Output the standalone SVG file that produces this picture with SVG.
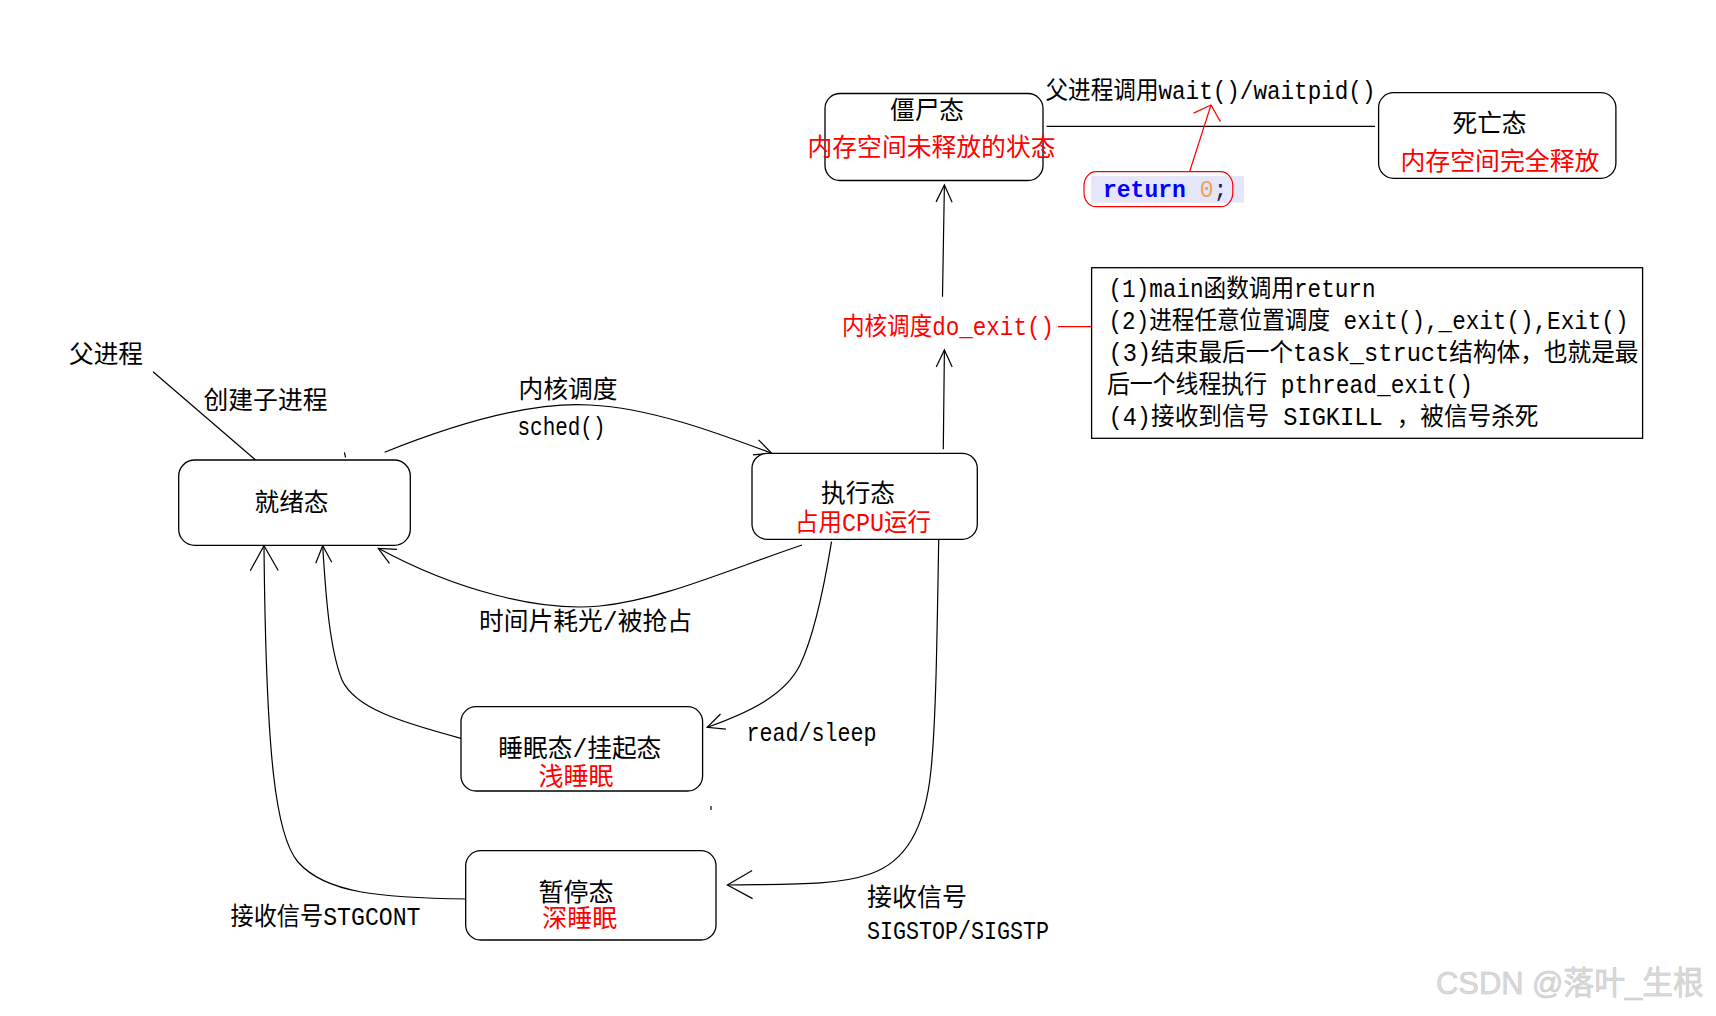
<svg xmlns="http://www.w3.org/2000/svg" width="1716" height="1016" viewBox="0 0 1716 1016">
<style>
.node{fill:#fff;stroke:#000;stroke-width:1.3}
.t{font-family:'Liberation Mono','Noto Sans CJK SC',monospace;font-size:25px;fill:#000}
.r{fill:#f00}
.c{fill:none;stroke:#000;stroke-width:1.2}
.cr{fill:none;stroke:#f00;stroke-width:1.2}
.code{font-family:'Liberation Mono','DejaVu Sans Mono',monospace;font-size:23px}
.wm{font-family:'Liberation Sans','Noto Sans CJK SC',sans-serif;font-size:32px;fill:#dadada;stroke:#c4c4c4;stroke-width:0.5}
</style>
<defs>
<marker id="arr" markerUnits="userSpaceOnUse" viewBox="-20 -10 22 20" refX="0" refY="0" markerWidth="22" markerHeight="20" orient="auto" overflow="visible">
<path d="M-17,-8 L0,0 L-17,8" fill="none" stroke="#000" stroke-width="1.2"/>
</marker>
<marker id="arrL" markerUnits="userSpaceOnUse" viewBox="-28 -16 30 32" refX="0" refY="0" markerWidth="30" markerHeight="32" orient="auto" overflow="visible">
<path d="M-25,-14 L0,0 L-25,14" fill="none" stroke="#000" stroke-width="1.2"/>
</marker>
<marker id="arrR" markerUnits="userSpaceOnUse" viewBox="-16 -16 18 32" refX="0" refY="0" markerWidth="18" markerHeight="32" orient="auto" overflow="visible">
<path d="M-13,-14 L0,0 L-13,14" fill="none" stroke="#f00" stroke-width="1.2"/>
</marker>
</defs>
<rect width="1716" height="1016" fill="#fff"/>

<g id="connectors">
<path class="c" d="M153,371.7 L255.6,460"/>
<path class="c" d="M344.4,452.3 L345.6,457.5"/>
<path class="c" d="M384.6,452.3 C470,418 540,402 590,405 C650,408 715,432 771.7,453.3" marker-end="url(#arr)"/>
<path class="c" d="M802,545 C720,573 660,600 600,606 C540,612 455,590 378.3,548.3" marker-end="url(#arr)"/>
<path class="c" d="M831.5,541.7 C822,600 812,640 800,665 C785,695 750,712 707.2,727.3" marker-end="url(#arr)"/>
<path class="c" d="M461,738.3 C400,722 355,708 342,680 C330,650 326,600 322.7,545.7" marker-end="url(#arr)"/>
<path class="c" d="M467.7,899 C380,898 325,893 298,862 C276,836 266,760 264,545.7" marker-end="url(#arrL)"/>
<path class="c" d="M938.7,540 C937,640 936,720 931,770 C925,830 905,862 870,874 C835,886 790,884 727.4,885" marker-end="url(#arrL)"/>
<path class="c" d="M943.3,449.3 L944.4,350" marker-end="url(#arr)"/>
<path class="c" d="M942.5,296.7 L944.4,185" marker-end="url(#arr)"/>
<path class="cr" d="M1058,326.7 L1091.6,326.7"/>
<path class="c" d="M1046.6,126.3 L1375,126.3"/>
<path class="cr" d="M1189.5,172 L1211,105" marker-end="url(#arrR)"/>
<path class="c" d="M711,806 L711,810"/>
</g>

<g id="node-zombie">
<rect class="node" x="825" y="93.5" width="218" height="87" rx="15"/>
<text class="t" x="890" y="118.5" textLength="74" lengthAdjust="spacingAndGlyphs">僵尸态</text>
<text class="t r" x="807.5" y="156" textLength="248" lengthAdjust="spacingAndGlyphs">内存空间未释放的状态</text>
</g>

<g id="node-dead">
<rect class="node" x="1378.6" y="92.7" width="237.3" height="85.6" rx="15"/>
<text class="t" x="1452.5" y="132" textLength="74" lengthAdjust="spacingAndGlyphs">死亡态</text>
<text class="t r" x="1400.5" y="170" textLength="199" lengthAdjust="spacingAndGlyphs">内存空间完全释放</text>
</g>

<g id="node-return">
<rect x="1091" y="176" width="153" height="26.7" fill="#e6e6fb"/>
<rect x="1084" y="171.7" width="148.8" height="35" rx="12" ry="14" fill="none" stroke="#f00" stroke-width="1.2"/>
<text class="code" x="1103" y="197"><tspan fill="#0000ff" font-weight="bold">return</tspan> <tspan fill="#f0a050">0</tspan><tspan fill="#1a1a50">;</tspan></text>
</g>

<g id="node-note">
<rect x="1091.6" y="267.7" width="551" height="170.6" fill="#fff" stroke="#000" stroke-width="1.3"/>
<text class="t" x="1108.5" y="297" textLength="267" lengthAdjust="spacingAndGlyphs">(1)main函数调用return</text>
<text class="t" x="1108.5" y="329" textLength="520" lengthAdjust="spacingAndGlyphs">(2)进程任意位置调度 exit(),_exit(),Exit()</text>
<text class="t" x="1108.5" y="360.5" textLength="530" lengthAdjust="spacingAndGlyphs">(3)结束最后一个task_struct结构体，也就是最</text>
<text class="t" x="1107" y="392.5" textLength="366" lengthAdjust="spacingAndGlyphs">后一个线程执行 pthread_exit()</text>
<text class="t" x="1108.5" y="424.5" textLength="430" lengthAdjust="spacingAndGlyphs">(4)接收到信号 SIGKILL ，被信号杀死</text>
</g>

<g id="node-ready">
<rect class="node" x="178.7" y="460" width="231.6" height="85.3" rx="16"/>
<text class="t" x="254.5" y="510.5" textLength="74" lengthAdjust="spacingAndGlyphs">就绪态</text>
</g>

<g id="node-running">
<rect class="node" x="752" y="453.3" width="225.3" height="86" rx="15"/>
<text class="t" x="821" y="502" textLength="74" lengthAdjust="spacingAndGlyphs">执行态</text>
<text class="t r" x="795" y="531" textLength="136" lengthAdjust="spacingAndGlyphs">占用CPU运行</text>
</g>

<g id="node-sleep">
<rect class="node" x="461" y="706.7" width="241.6" height="84.3" rx="15"/>
<text class="t" x="498.3" y="757" textLength="163" lengthAdjust="spacingAndGlyphs">睡眠态/挂起态</text>
<text class="t r" x="538.5" y="784.5" textLength="75" lengthAdjust="spacingAndGlyphs">浅睡眠</text>
</g>

<g id="node-stopped">
<rect class="node" x="465.7" y="850.7" width="250.3" height="89.3" rx="15"/>
<text class="t" x="538.5" y="901" textLength="75" lengthAdjust="spacingAndGlyphs">暂停态</text>
<text class="t r" x="542.3" y="927" textLength="75" lengthAdjust="spacingAndGlyphs">深睡眠</text>
</g>

<g id="labels">
<text class="t" x="1045.5" y="99" textLength="330" lengthAdjust="spacingAndGlyphs">父进程调用wait()/waitpid()</text>
<text class="t r" x="842" y="334.5" textLength="212" lengthAdjust="spacingAndGlyphs">内核调度do_exit()</text>
<text class="t" x="69" y="363" textLength="74" lengthAdjust="spacingAndGlyphs">父进程</text>
<text class="t" x="203.5" y="408.5" textLength="124" lengthAdjust="spacingAndGlyphs">创建子进程</text>
<text class="t" x="518.5" y="398" textLength="99" lengthAdjust="spacingAndGlyphs">内核调度</text>
<text class="t" x="517.5" y="435" textLength="88" lengthAdjust="spacingAndGlyphs">sched()</text>
<text class="t" x="479" y="629.5" textLength="213" lengthAdjust="spacingAndGlyphs">时间片耗光/被抢占</text>
<text class="t" x="746.5" y="741" textLength="130" lengthAdjust="spacingAndGlyphs">read/sleep</text>
<text class="t" x="230.5" y="924.5" textLength="190" lengthAdjust="spacingAndGlyphs">接收信号STGCONT</text>
<text class="t" x="867" y="906" textLength="100" lengthAdjust="spacingAndGlyphs">接收信号</text>
<text class="t" x="867" y="939" textLength="182" lengthAdjust="spacingAndGlyphs">SIGSTOP/SIGSTP</text>
</g>

<g id="watermark">
<text class="wm" x="1436" y="994" textLength="268" lengthAdjust="spacingAndGlyphs">CSDN @落叶_生根</text>
</g>
</svg>
